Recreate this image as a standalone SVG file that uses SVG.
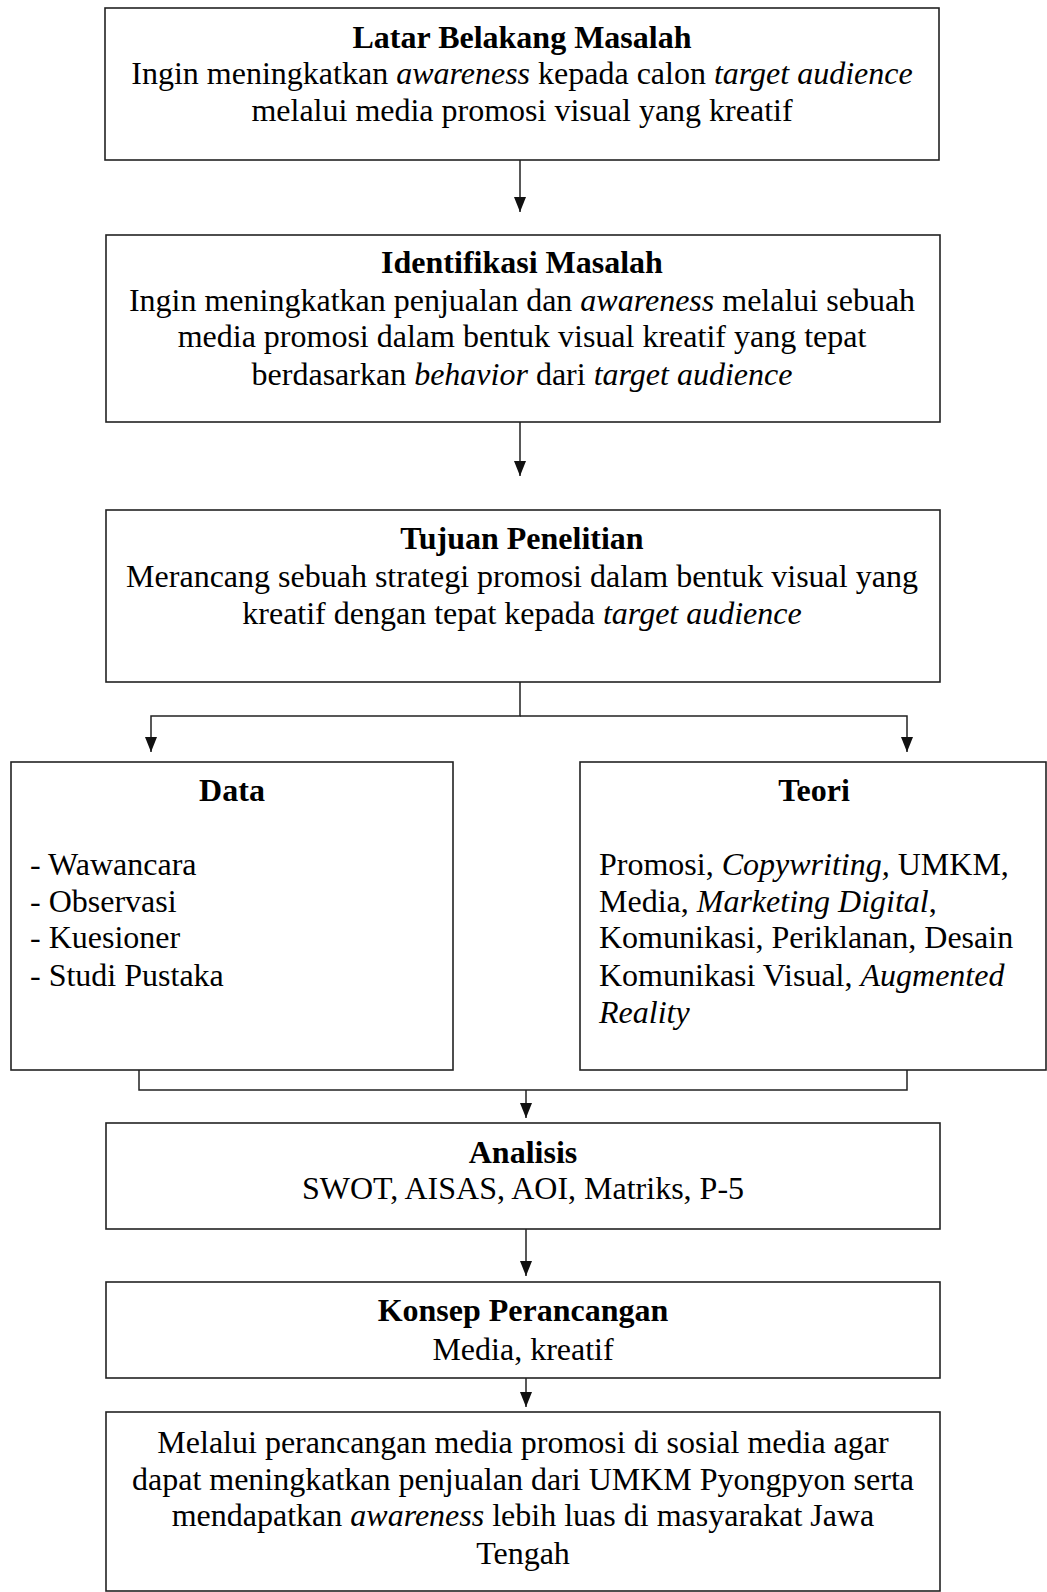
<svg xmlns="http://www.w3.org/2000/svg" width="1047" height="1592" viewBox="0 0 1047 1592">
<style>
.box{fill:#fff;stroke:#222;stroke-width:1.6}
.t{font-family:"Liberation Serif","Times New Roman",serif;font-size:32px;fill:#000}
.c{text-anchor:middle}
.b{font-weight:bold}
.i{font-style:italic}
.ln{fill:none;stroke:#222;stroke-width:1.5}
</style>
<defs>
<marker id="ah" viewBox="0 0 15 12" markerWidth="15" markerHeight="12" refX="15" refY="6" orient="auto" markerUnits="userSpaceOnUse">
<path d="M0,0 L15,6 L0,12 z" fill="#111"/>
</marker>
</defs>
<rect width="1047" height="1592" fill="#fff"/>
<g id="connectors">
<line class="ln" x1="520" y1="160" x2="520" y2="212" marker-end="url(#ah)"/>
<line class="ln" x1="520" y1="422" x2="520" y2="476" marker-end="url(#ah)"/>
<polyline class="ln" points="520,682 520,716 151,716 151,752" marker-end="url(#ah)"/>
<polyline class="ln" points="520,716 907,716 907,752" marker-end="url(#ah)"/>
<polyline class="ln" points="139,1070 139,1090 907,1090 907,1070"/>
<line class="ln" x1="526" y1="1090" x2="526" y2="1118" marker-end="url(#ah)"/>
<line class="ln" x1="526" y1="1229" x2="526" y2="1276" marker-end="url(#ah)"/>
<line class="ln" x1="526" y1="1378" x2="526" y2="1407" marker-end="url(#ah)"/>
</g>
<g id="latar">
<rect class="box" x="105" y="8" width="834" height="152"/>
<text class="t c b" x="522" y="48">Latar Belakang Masalah</text>
<text class="t c" x="522" y="84">Ingin meningkatkan <tspan class="i">awareness</tspan> kepada calon <tspan class="i">target audience</tspan></text>
<text class="t c" x="522" y="121">melalui media promosi visual yang kreatif</text>
</g>
<g id="identifikasi">
<rect class="box" x="106" y="235" width="834" height="187"/>
<text class="t c b" x="522" y="273">Identifikasi Masalah</text>
<text class="t c" x="522" y="311">Ingin meningkatkan penjualan dan <tspan class="i">awareness</tspan> melalui sebuah</text>
<text class="t c" x="522" y="347">media promosi dalam bentuk visual kreatif yang tepat</text>
<text class="t c" x="522" y="385">berdasarkan <tspan class="i">behavior</tspan> dari <tspan class="i">target audience</tspan></text>
</g>
<g id="tujuan">
<rect class="box" x="106" y="510" width="834" height="172"/>
<text class="t c b" x="522" y="549">Tujuan Penelitian</text>
<text class="t c" x="522" y="587">Merancang sebuah strategi promosi dalam bentuk visual yang</text>
<text class="t c" x="522" y="624">kreatif dengan tepat kepada <tspan class="i">target audience</tspan></text>
</g>
<g id="data">
<rect class="box" x="11" y="762" width="442" height="308"/>
<text class="t c b" x="232" y="801">Data</text>
<text class="t" x="30" y="875">- Wawancara</text>
<text class="t" x="30" y="912">- Observasi</text>
<text class="t" x="30" y="948">- Kuesioner</text>
<text class="t" x="30" y="986">- Studi Pustaka</text>
</g>
<g id="teori">
<rect class="box" x="580" y="762" width="466" height="308"/>
<text class="t c b" x="814" y="801">Teori</text>
<text class="t" x="599" y="875">Promosi, <tspan class="i">Copywriting,</tspan> UMKM,</text>
<text class="t" x="599" y="912">Media, <tspan class="i">Marketing Digital</tspan>,</text>
<text class="t" x="599" y="948">Komunikasi, Periklanan, Desain</text>
<text class="t" x="599" y="986">Komunikasi Visual, <tspan class="i">Augmented</tspan></text>
<text class="t i" x="599" y="1023">Reality</text>
</g>
<g id="analisis">
<rect class="box" x="106" y="1123" width="834" height="106"/>
<text class="t c b" x="523" y="1163">Analisis</text>
<text class="t c" x="523" y="1199">SWOT, AISAS, AOI, Matriks, P-5</text>
</g>
<g id="konsep">
<rect class="box" x="106" y="1282" width="834" height="96"/>
<text class="t c b" x="523" y="1321">Konsep Perancangan</text>
<text class="t c" x="523" y="1360">Media, kreatif</text>
</g>
<g id="hasil">
<rect class="box" x="106" y="1412" width="834" height="179"/>
<text class="t c" x="523" y="1453">Melalui perancangan media promosi di sosial media agar</text>
<text class="t c" x="523" y="1490">dapat meningkatkan penjualan dari UMKM Pyongpyon serta</text>
<text class="t c" x="523" y="1526">mendapatkan <tspan class="i">awareness</tspan> lebih luas di masyarakat Jawa</text>
<text class="t c" x="523" y="1564">Tengah</text>
</g>
</svg>
